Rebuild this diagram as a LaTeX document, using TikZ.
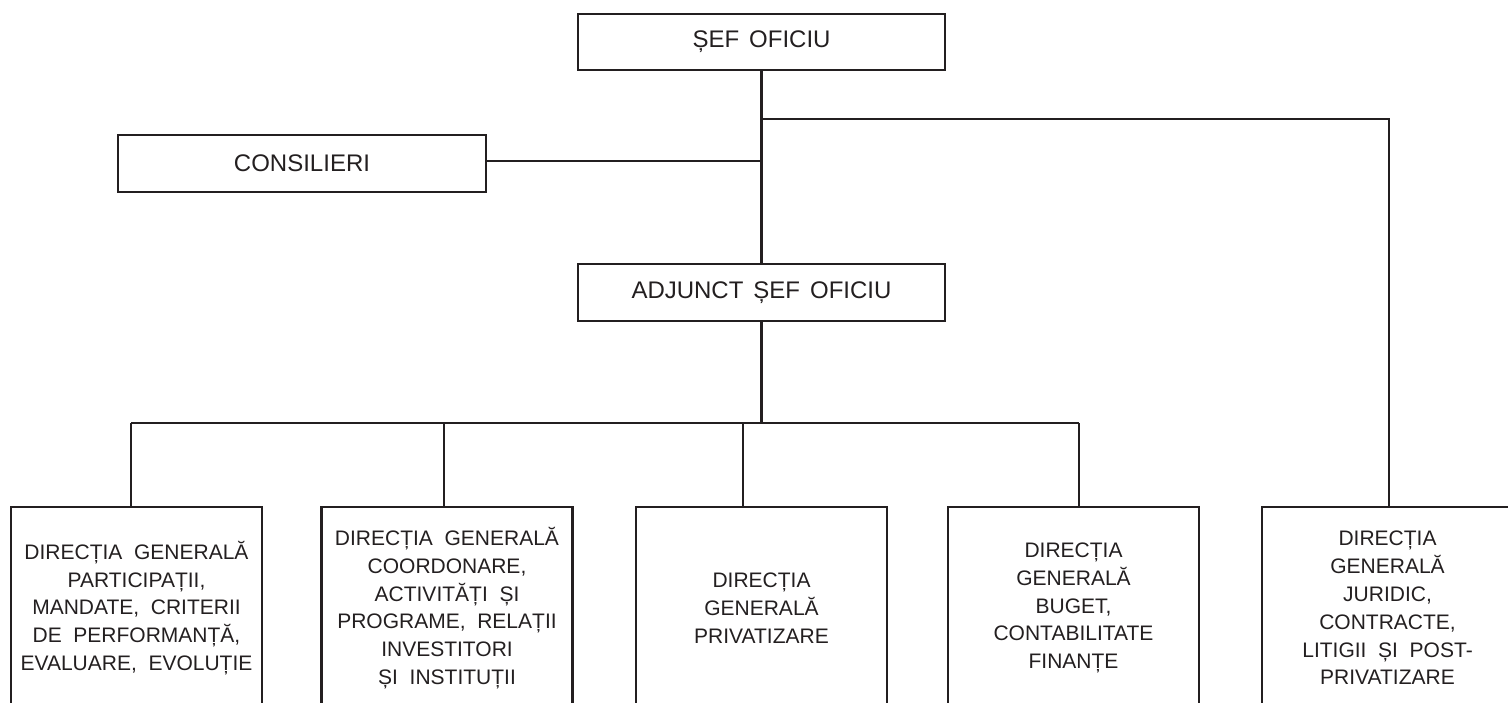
\documentclass[tikz,border=0pt]{standalone}
\usepackage{fontspec}
\setmainfont{Liberation Sans}[WordSpace=2]
\newfontfamily\topfont{Liberation Sans}[WordSpace=1.5]
\definecolor{ink}{HTML}{231F20}
\begin{document}
\begin{tikzpicture}[x=1pt,y=-1pt,
 box/.style={draw=ink, line width=2.1pt, inner sep=0pt, outer sep=0pt, font=\fontsize{21}{27.8}\selectfont, text=ink, align=center, minimum width=251pt, minimum height=202pt},
 topbox/.style={draw=ink, line width=2.1pt, inner sep=0pt, outer sep=0pt, font=\topfont\fontsize{24}{28}\selectfont, text=ink, minimum width=367pt, minimum height=56pt},
 link/.style={draw=ink, line width=2.1pt}]
\useasboundingbox (0,0) rectangle (1508,702);
\clip (0,0) rectangle (1508,702);
\node[topbox] (sef) at (761.5,42) {ȘEF OFICIU};
\node[topbox, minimum width=368pt, minimum height=57pt] (cons) at (302,163.5) {CONSILIERI};
\node[topbox, minimum height=57pt] (adj) at (761.5,292.5) {ADJUNCT ȘEF OFICIU};
\node[box] (b1) at (136.5,608) {DIRECȚIA GENERALĂ\\PARTICIPAȚII,\\MANDATE, CRITERII\\DE PERFORMANȚĂ,\\EVALUARE, EVOLUȚIE};
\node[box] (b2) at (447,608) {DIRECȚIA GENERALĂ\\COORDONARE,\\ACTIVITĂȚI ȘI\\PROGRAME, RELAȚII\\INVESTITORI\\ȘI INSTITUȚII};
\node[box] (b3) at (761.5,608) {DIRECȚIA\\GENERALĂ\\PRIVATIZARE};
\node[box] (b4) at (1073.5,608) {DIRECȚIA\\GENERALĂ\\BUGET,\\CONTABILITATE\\FINANȚE};
\node[box] (b5) at (1387.5,608) {DIRECȚIA\\GENERALĂ\\JURIDIC,\\CONTRACTE,\\LITIGII ȘI POST-\\PRIVATIZARE};
\coordinate (jc) at (761.5,161);
\coordinate (jr) at (761.5,119);
\coordinate (rc) at (1389,119);
\coordinate (busc) at (761.5,423);
\coordinate (d1) at (131,423);
\coordinate (d2) at (444,423);
\coordinate (d3) at (743,423);
\coordinate (d4) at (1079,423);
\draw[link] (sef.south) -- (adj.north);
\draw[link] (cons.east |- jc) -- (jc);
\draw[link] (jr) -- (rc) -- (rc |- b5.north);
\draw[link] (adj.south) -- (busc);
\draw[link] (d1) -- (d4);
\draw[link] (d1) -- (d1 |- b1.north);
\draw[link] (d2) -- (d2 |- b2.north);
\draw[link] (d3) -- (d3 |- b3.north);
\draw[link] (d4) -- (d4 |- b4.north);
\end{tikzpicture}
\end{document}
